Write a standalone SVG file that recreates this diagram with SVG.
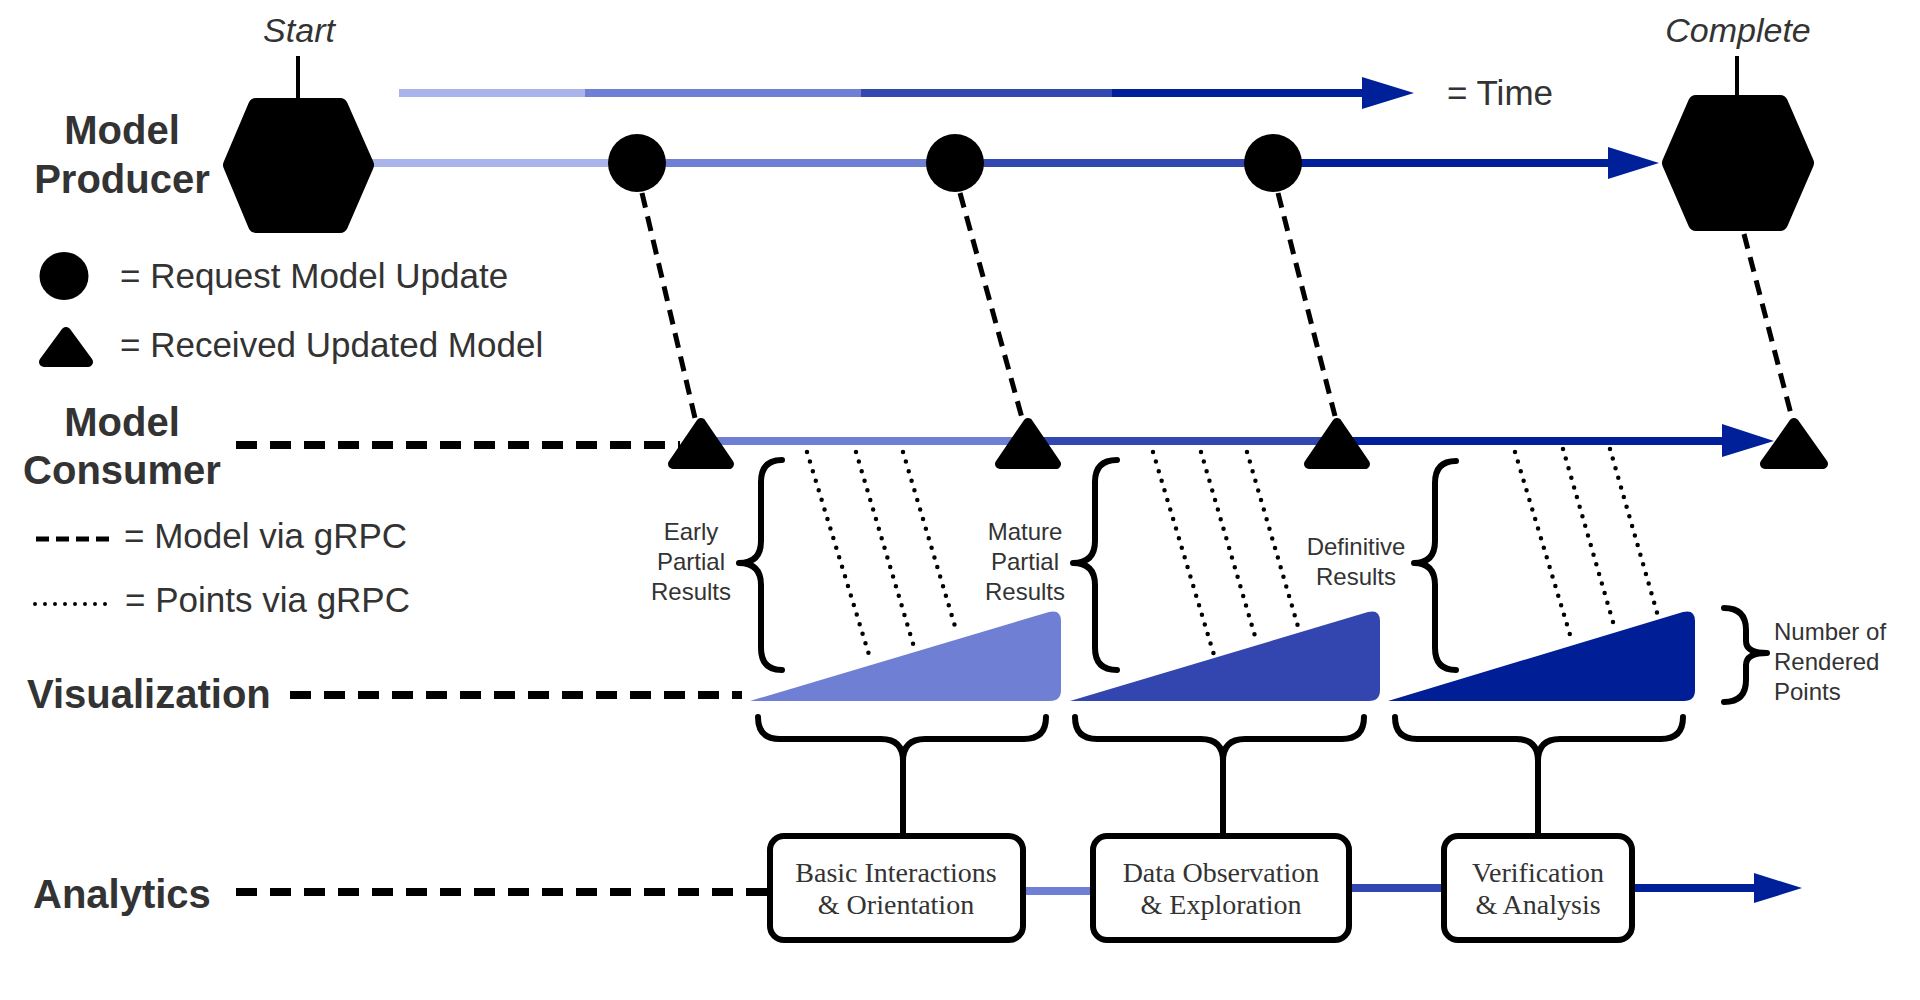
<svg xmlns="http://www.w3.org/2000/svg" width="1920" height="1000" viewBox="0 0 1920 1000">
<style>
.lbl{font-family:"Liberation Sans",Arial,sans-serif;font-weight:bold;font-size:40px;fill:#333}
.leg{font-family:"Liberation Sans",Arial,sans-serif;font-size:35px;fill:#333}
.ital{font-family:"Liberation Sans",Arial,sans-serif;font-style:italic;font-size:34px;fill:#333}
.sm{font-family:"Liberation Sans",Arial,sans-serif;font-size:24px;fill:#333}
.box{font-family:"Liberation Serif","Times New Roman",serif;font-size:28px;fill:#333}
.c1{stroke:#aab4ea}.c2{stroke:#6e7fd4}.c3{stroke:#3347b1}.c4{stroke:#00209a}
.tl{stroke-width:8;fill:none}
.dash{stroke:#000;stroke-width:8;stroke-dasharray:21 13;fill:none}
.mdash{stroke:#000;stroke-width:5;stroke-dasharray:15 9;fill:none}
.dot{stroke:#000;stroke-width:4.5;stroke-dasharray:0 10;stroke-linecap:round;fill:none}
.brace{stroke:#000;stroke-width:6;fill:none;stroke-linecap:round;stroke-linejoin:round}
.hex{fill:#000;stroke:#000;stroke-width:16;stroke-linejoin:round}
.tri{fill:#000;stroke:#000;stroke-width:10;stroke-linejoin:round}
.ab{fill:#fff;stroke:#000;stroke-width:6}
</style>
<rect width="1920" height="1000" fill="#fff"/>

<g id="connectors">
  <line class="tl c1" x1="399" y1="93" x2="585" y2="93"/>
  <line class="tl c2" x1="585" y1="93" x2="861" y2="93"/>
  <line class="tl c3" x1="861" y1="93" x2="1112" y2="93"/>
  <line class="tl c4" x1="1112" y1="93" x2="1366" y2="93"/>
  <polygon points="1362,77 1414,93 1362,109" fill="#00209a"/>
  <line class="tl c1" x1="370" y1="163" x2="637" y2="163"/>
  <line class="tl c2" x1="637" y1="163" x2="955" y2="163"/>
  <line class="tl c3" x1="955" y1="163" x2="1273" y2="163"/>
  <line class="tl c4" x1="1273" y1="163" x2="1612" y2="163"/>
  <polygon points="1608,147 1659,163 1608,179" fill="#00209a"/>
  <line x1="298" y1="56" x2="298" y2="100" stroke="#000" stroke-width="4"/>
  <line x1="1737" y1="56" x2="1737" y2="96" stroke="#000" stroke-width="4"/>
  <line class="mdash" x1="642" y1="193" x2="695" y2="418"/>
  <line class="mdash" x1="960" y1="193" x2="1022" y2="418"/>
  <line class="mdash" x1="1278" y1="193" x2="1335" y2="416"/>
  <line class="mdash" x1="1744" y1="234" x2="1791" y2="414"/>
  <line class="dash" x1="236" y1="445" x2="680" y2="445"/>
  <line class="tl c2" x1="700" y1="441" x2="1028" y2="441"/>
  <line class="tl c3" x1="1028" y1="441" x2="1337" y2="441"/>
  <line class="tl c4" x1="1337" y1="441" x2="1726" y2="441"/>
  <polygon points="1722,424 1774,441 1722,457" fill="#00209a"/>
  <line class="dot" x1="807" y1="452" x2="870" y2="658"/>
  <line class="dot" x1="856" y1="452" x2="914" y2="647"/>
  <line class="dot" x1="903" y1="452" x2="957" y2="633"/>
  <line class="dot" x1="1153" y1="452" x2="1214" y2="655"/>
  <line class="dot" x1="1201" y1="452" x2="1257" y2="643"/>
  <line class="dot" x1="1247" y1="452" x2="1299" y2="630"/>
  <line class="dot" x1="1515" y1="452" x2="1571" y2="638"/>
  <line class="dot" x1="1563" y1="449" x2="1615" y2="629"/>
  <line class="dot" x1="1610" y1="449" x2="1658" y2="616"/>
  <line class="dash" x1="290" y1="695" x2="742" y2="695"/>
  <path class="brace" d="M758,717 Q758,739 780,739 L881,739 Q903,739 903,761 L903,834 M903,761 Q903,739 925,739 L1024,739 Q1046,739 1046,717"/>
  <path class="brace" d="M1075,717 Q1075,739 1097,739 L1201,739 Q1223,739 1223,761 L1223,834 M1223,761 Q1223,739 1245,739 L1342,739 Q1364,739 1364,717"/>
  <path class="brace" d="M1395,717 Q1395,739 1417,739 L1516,739 Q1538,739 1538,761 L1538,834 M1538,761 Q1538,739 1560,739 L1661,739 Q1683,739 1683,717"/>
  <line class="dash" x1="236" y1="892" x2="768" y2="892"/>
  <line class="tl c2" x1="1026" y1="891" x2="1091" y2="891"/>
  <line class="tl c3" x1="1351" y1="888" x2="1442" y2="888"/>
  <line class="tl c4" x1="1634" y1="888" x2="1758" y2="888"/>
  <polygon points="1754,873 1802,888 1754,903" fill="#00209a"/>
</g>

<g id="start-label"><text class="ital" x="299" y="42" text-anchor="middle">Start</text></g>
<g id="complete-label"><text class="ital" x="1738" y="42" text-anchor="middle">Complete</text></g>
<g id="time-legend"><text class="leg" x="1447" y="105">= Time</text></g>

<g id="model-producer-label">
  <text class="lbl" x="122" y="144" text-anchor="middle">Model</text>
  <text class="lbl" x="122" y="193" text-anchor="middle">Producer</text>
</g>
<g id="start-node"><polygon class="hex" points="256,106 340,106 366,165 340,225 256,225 231,165"/></g>
<g id="complete-node"><polygon class="hex" points="1696,103 1780,103 1806,163 1780,223 1696,223 1670,163"/></g>

<g id="request-1"><circle cx="637" cy="163" r="29"/></g>
<g id="request-2"><circle cx="955" cy="163" r="29"/></g>
<g id="request-3"><circle cx="1273" cy="163" r="29"/></g>

<g id="legend-request">
  <ellipse cx="64" cy="276" rx="24.5" ry="24"/>
  <text class="leg" x="120" y="288">= Request Model Update</text>
</g>
<g id="legend-received">
  <polygon class="tri" points="66,332 88,362 44,362"/>
  <text class="leg" x="120" y="357">= Received Updated Model</text>
</g>

<g id="model-consumer-label">
  <text class="lbl" x="122" y="436" text-anchor="middle">Model</text>
  <text class="lbl" x="122" y="484" text-anchor="middle">Consumer</text>
</g>
<g id="received-1"><polygon class="tri" points="701,423 729,464 673,464"/></g>
<g id="received-2"><polygon class="tri" points="1028,423 1056,464 1000,464"/></g>
<g id="received-3"><polygon class="tri" points="1337,423 1365,464 1309,464"/></g>
<g id="received-4"><polygon class="tri" points="1794,423 1823,464 1765,464"/></g>

<g id="legend-model-grpc">
  <line x1="36" y1="539" x2="110" y2="539" stroke="#000" stroke-width="5" stroke-dasharray="13 7"/>
  <text class="leg" x="124" y="548">= Model via gRPC</text>
</g>
<g id="legend-points-grpc">
  <line x1="35" y1="604" x2="108" y2="604" stroke="#000" stroke-width="4" stroke-dasharray="0 10" stroke-linecap="round"/>
  <text class="leg" x="125" y="612">= Points via gRPC</text>
</g>

<g id="early-partial">
  <text class="sm" text-anchor="middle" x="691" y="540">Early</text>
  <text class="sm" text-anchor="middle" x="691" y="570">Partial</text>
  <text class="sm" text-anchor="middle" x="691" y="600">Results</text>
  <path class="brace" d="M782,460 Q761,460 761,482 L761,541 Q761,563 739,563 Q761,563 761,585 L761,648 Q761,670 782,670"/>
</g>
<g id="mature-partial">
  <text class="sm" text-anchor="middle" x="1025" y="540">Mature</text>
  <text class="sm" text-anchor="middle" x="1025" y="570">Partial</text>
  <text class="sm" text-anchor="middle" x="1025" y="600">Results</text>
  <path class="brace" d="M1117,460 Q1095,460 1095,482 L1095,541 Q1095,563 1073,563 Q1095,563 1095,585 L1095,648 Q1095,670 1117,670"/>
</g>
<g id="definitive">
  <text class="sm" text-anchor="middle" x="1356" y="555">Definitive</text>
  <text class="sm" text-anchor="middle" x="1356" y="585">Results</text>
  <path class="brace" d="M1456,461 Q1435,461 1435,483 L1435,541 Q1435,563 1414,563 Q1435,563 1435,585 L1435,648 Q1435,670 1456,670"/>
</g>

<g id="visualization-label"><text class="lbl" x="27" y="708">Visualization</text></g>
<g id="points-1"><path d="M750,701 L1049,612 Q1061,609 1061,621 L1061,690 Q1061,701 1050,701 Z" fill="#6e7fd4"/></g>
<g id="points-2"><path d="M1070,701 L1368,612 Q1380,609 1380,621 L1380,690 Q1380,701 1369,701 Z" fill="#3346b0"/></g>
<g id="points-3"><path d="M1388,701 L1683,612 Q1695,609 1695,621 L1695,690 Q1695,701 1684,701 Z" fill="#001e96"/></g>
<g id="rendered-points">
  <path class="brace" d="M1724,608 Q1746,608 1746,630 L1746,641 Q1746,653 1767,653 Q1746,653 1746,665 L1746,680 Q1746,702 1724,702"/>
  <text class="sm" x="1774" y="640">Number of</text>
  <text class="sm" x="1774" y="670">Rendered</text>
  <text class="sm" x="1774" y="700">Points</text>
</g>

<g id="analytics-label"><text class="lbl" x="33" y="908">Analytics</text></g>
<g id="basic-interactions">
  <rect class="ab" x="770" y="836" width="253" height="104" rx="14"/>
  <text class="box" x="896" y="882" text-anchor="middle">Basic Interactions</text>
  <text class="box" x="896" y="914" text-anchor="middle">&amp; Orientation</text>
</g>
<g id="data-observation">
  <rect class="ab" x="1093" y="836" width="256" height="104" rx="14"/>
  <text class="box" x="1221" y="882" text-anchor="middle">Data Observation</text>
  <text class="box" x="1221" y="914" text-anchor="middle">&amp; Exploration</text>
</g>
<g id="verification">
  <rect class="ab" x="1444" y="836" width="188" height="104" rx="14"/>
  <text class="box" x="1538" y="882" text-anchor="middle">Verification</text>
  <text class="box" x="1538" y="914" text-anchor="middle">&amp; Analysis</text>
</g>
</svg>
